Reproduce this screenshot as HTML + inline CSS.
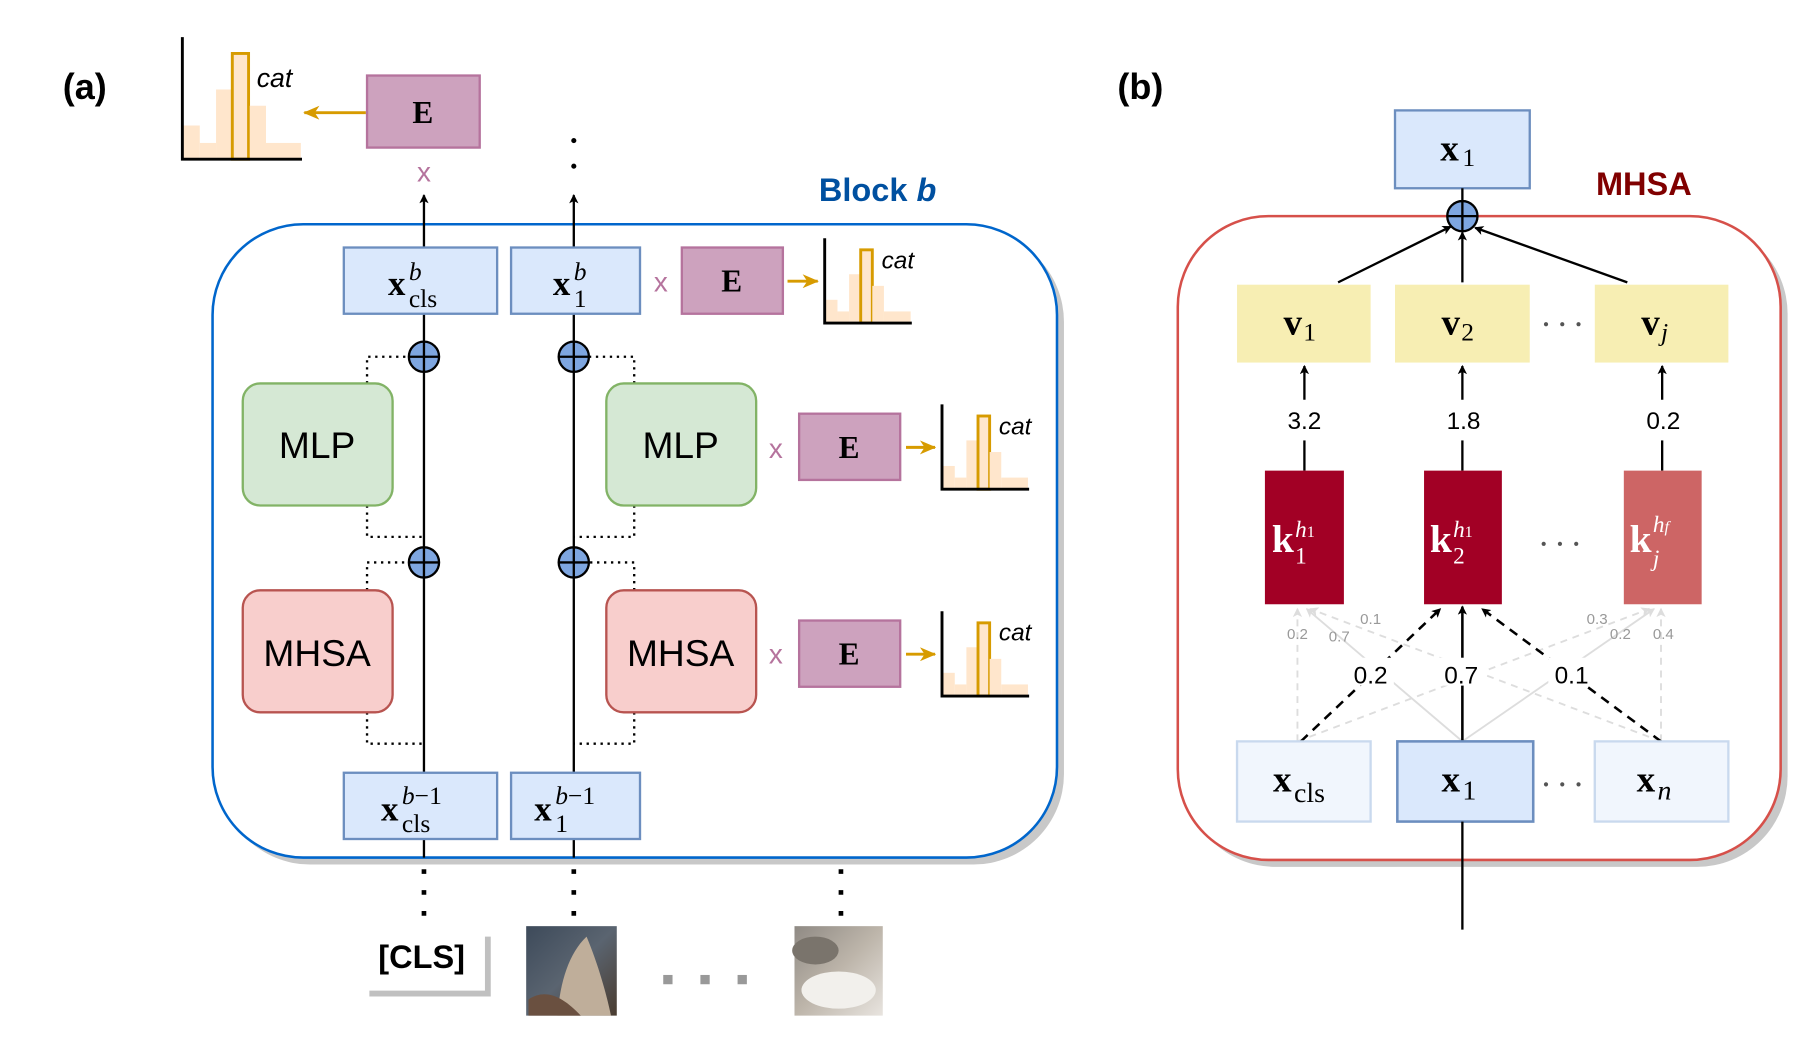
<!DOCTYPE html>
<html><head><meta charset="utf-8"><style>
html,body{margin:0;padding:0;background:#fff;}
svg{display:block;}
.m{font-family:"Liberation Serif",serif;}
.s{font-family:"Liberation Sans",sans-serif;}
</style></head><body>
<svg width="1812" height="1047" viewBox="0 0 1560 901" preserveAspectRatio="none" xmlns="http://www.w3.org/2000/svg">
<defs>
<marker id="ak" markerWidth="8" markerHeight="8" refX="7" refY="4" orient="auto" markerUnits="userSpaceOnUse"><path d="M0,0 L8,4 L0,8 L2,4z" fill="#000"/></marker>
<marker id="ao" markerWidth="14" markerHeight="12" refX="13" refY="6" orient="auto" markerUnits="userSpaceOnUse"><path d="M0,0 L14,6 L0,12 L4,6z" fill="#d79b00"/></marker>
<marker id="ag" markerWidth="8" markerHeight="8" refX="7" refY="4" orient="auto" markerUnits="userSpaceOnUse"><path d="M0,0 L8,4 L0,8 L2,4z" fill="#ddd"/></marker>
<linearGradient id="cat1" x1="0" y1="0" x2="1" y2="1"><stop offset="0" stop-color="#3d4a5a"/><stop offset="0.5" stop-color="#5a6470"/><stop offset="1" stop-color="#4a3c30"/></linearGradient>
<linearGradient id="cat2" x1="0" y1="0" x2="1" y2="1"><stop offset="0" stop-color="#8f8a84"/><stop offset="0.5" stop-color="#bdb5aa"/><stop offset="1" stop-color="#e8e4df"/></linearGradient>
<g id="hist">
<rect x="1" y="-29" width="14" height="29" fill="#ffe6cc"/>
<rect x="15" y="-14" width="14" height="14" fill="#ffe6cc"/>
<rect x="29" y="-60" width="14" height="60" fill="#ffe6cc"/>
<rect x="43" y="-91" width="14" height="91" fill="#ffe6cc" stroke="#d79b00" stroke-width="2.5"/>
<rect x="58" y="-46" width="14" height="46" fill="#ffe6cc"/>
<rect x="72" y="-14" width="30" height="14" fill="#ffe6cc"/>
<path d="M0,-105 V0 H103" fill="none" stroke="#000" stroke-width="2.5"/>
</g>
<g id="hist2">
<rect x="1" y="-20" width="10" height="20" fill="#ffe6cc"/>
<rect x="11" y="-10" width="10" height="10" fill="#ffe6cc"/>
<rect x="21" y="-42" width="10" height="42" fill="#ffe6cc"/>
<rect x="31" y="-63" width="10" height="63" fill="#ffe6cc" stroke="#d79b00" stroke-width="2.5"/>
<rect x="41" y="-32" width="10" height="32" fill="#ffe6cc"/>
<rect x="51" y="-10" width="23" height="10" fill="#ffe6cc"/>
<path d="M0,-73 V0 H75" fill="none" stroke="#000" stroke-width="2.5"/>
</g>
<g id="plus"><circle r="13" fill="#7ea6e0" stroke="#000" stroke-width="2"/><path d="M-13,0H13M0,-13V13" stroke="#000" stroke-width="2"/></g>
</defs>

<!-- (a) -->
<text x="54" y="85" class="s" font-size="31" font-weight="bold">(a)</text>
<use href="#hist" x="157" y="137"/>
<text x="221" y="75" class="s" font-size="23" font-style="italic">cat</text>
<line x1="315" y1="97" x2="262" y2="97" stroke="#d79b00" stroke-width="2.5" marker-end="url(#ao)"/>
<rect x="316" y="65" width="97" height="62" fill="#cda2be" stroke="#b5739d" stroke-width="2"/>
<text x="364" y="106" class="m" font-size="27" font-weight="bold" text-anchor="middle">E</text>
<text x="365" y="156" class="s" font-size="24" fill="#b5739d" text-anchor="middle">x</text>
<circle cx="494" cy="121" r="2.2"/><circle cx="494" cy="143" r="2.2"/>

<text x="705" y="173" class="s" font-size="28" font-weight="bold" fill="#0050a0">Block <tspan font-style="italic">b</tspan></text>
<rect x="189" y="199" width="727" height="545" rx="78" fill="#c8c8c8"/>
<rect x="183" y="193" width="727" height="545" rx="78" fill="#fff" stroke="#0066cc" stroke-width="2.2"/>

<line x1="365" y1="213" x2="365" y2="168" stroke="#000" stroke-width="2" marker-end="url(#ak)"/>
<line x1="494" y1="213" x2="494" y2="168" stroke="#000" stroke-width="2" marker-end="url(#ak)"/>
<line x1="365" y1="270" x2="365" y2="738" stroke="#000" stroke-width="2"/>
<line x1="494" y1="270" x2="494" y2="738" stroke="#000" stroke-width="2"/>

<g fill="none" stroke="#000" stroke-width="2" stroke-dasharray="2,4">
<path d="M316,330V307H352"/><path d="M316,435V462H365"/>
<path d="M316,508V484H352"/><path d="M316,613V640H365"/>
<path d="M546,330V307H507"/><path d="M546,435V462H494"/>
<path d="M546,508V484H507"/><path d="M546,613V640H494"/>
</g>
<use href="#plus" x="365" y="307"/><use href="#plus" x="494" y="307"/>
<use href="#plus" x="365" y="484"/><use href="#plus" x="494" y="484"/>

<rect x="209" y="330" width="129" height="105" rx="15" fill="#d5e8d4" stroke="#82b366" stroke-width="2"/>
<text x="273" y="394" class="s" font-size="32" text-anchor="middle">MLP</text>
<rect x="209" y="508" width="129" height="105" rx="15" fill="#f8cecc" stroke="#b85450" stroke-width="2"/>
<text x="273" y="573" class="s" font-size="32" text-anchor="middle">MHSA</text>
<rect x="522" y="330" width="129" height="105" rx="15" fill="#d5e8d4" stroke="#82b366" stroke-width="2"/>
<text x="586" y="394" class="s" font-size="32" text-anchor="middle">MLP</text>
<rect x="522" y="508" width="129" height="105" rx="15" fill="#f8cecc" stroke="#b85450" stroke-width="2"/>
<text x="586" y="573" class="s" font-size="32" text-anchor="middle">MHSA</text>

<rect x="296" y="213" width="132" height="57" fill="#dae8fc" stroke="#6c8ebf" stroke-width="2"/>
<text x="334" y="254" class="m" font-size="30" font-weight="bold">x</text>
<text x="352" y="241" class="m" font-size="22" font-style="italic">b</text>
<text x="352" y="264" class="m" font-size="22">cls</text>
<rect x="440" y="213" width="111" height="57" fill="#dae8fc" stroke="#6c8ebf" stroke-width="2"/>
<text x="476" y="254" class="m" font-size="30" font-weight="bold">x</text>
<text x="494" y="241" class="m" font-size="22" font-style="italic">b</text>
<text x="494" y="264" class="m" font-size="22">1</text>
<text x="569" y="251" class="s" font-size="24" fill="#b5739d" text-anchor="middle">x</text>
<rect x="587" y="213" width="87" height="57" fill="#cda2be" stroke="#b5739d" stroke-width="2"/>
<text x="630" y="251" class="m" font-size="27" font-weight="bold" text-anchor="middle">E</text>
<line x1="678" y1="242" x2="704" y2="242" stroke="#d79b00" stroke-width="2.5" marker-end="url(#ao)"/>
<use href="#hist2" x="710" y="278"/>
<text x="759" y="231" class="s" font-size="21" font-style="italic">cat</text>

<text x="668" y="394" class="s" font-size="24" fill="#b5739d" text-anchor="middle">x</text>
<rect x="688" y="356" width="87" height="57" fill="#cda2be" stroke="#b5739d" stroke-width="2"/>
<text x="731" y="394" class="m" font-size="27" font-weight="bold" text-anchor="middle">E</text>
<line x1="780" y1="385" x2="805" y2="385" stroke="#d79b00" stroke-width="2.5" marker-end="url(#ao)"/>
<use href="#hist2" x="811" y="421"/>
<text x="860" y="374" class="s" font-size="21" font-style="italic">cat</text>

<text x="668" y="571" class="s" font-size="24" fill="#b5739d" text-anchor="middle">x</text>
<rect x="688" y="534" width="87" height="57" fill="#cda2be" stroke="#b5739d" stroke-width="2"/>
<text x="731" y="572" class="m" font-size="27" font-weight="bold" text-anchor="middle">E</text>
<line x1="780" y1="563" x2="805" y2="563" stroke="#d79b00" stroke-width="2.5" marker-end="url(#ao)"/>
<use href="#hist2" x="811" y="599"/>
<text x="860" y="551" class="s" font-size="21" font-style="italic">cat</text>

<rect x="296" y="665" width="132" height="57" fill="#dae8fc" stroke="#6c8ebf" stroke-width="2"/>
<text x="328" y="706" class="m" font-size="30" font-weight="bold">x</text>
<text x="346" y="692" class="m" font-size="22"><tspan font-style="italic">b</tspan>−1</text>
<text x="346" y="716" class="m" font-size="22">cls</text>
<rect x="440" y="665" width="111" height="57" fill="#dae8fc" stroke="#6c8ebf" stroke-width="2"/>
<text x="460" y="706" class="m" font-size="30" font-weight="bold">x</text>
<text x="478" y="692" class="m" font-size="22"><tspan font-style="italic">b</tspan>−1</text>
<text x="478" y="716" class="m" font-size="22">1</text>

<g stroke="#000" stroke-width="4" stroke-dasharray="4,14">
<line x1="365" y1="748" x2="365" y2="795"/><line x1="494" y1="748" x2="494" y2="795"/><line x1="724" y1="748" x2="724" y2="795"/>
</g>
<path d="M318,855H420V806" fill="none" stroke="#c0c0c0" stroke-width="5"/>
<text x="363" y="833" class="s" font-size="28" font-weight="bold" text-anchor="middle">[CLS]</text>
<rect x="453" y="797" width="78" height="77" fill="url(#cat1)"/>
<path d="M480,874 C482,845 490,820 505,806 C515,830 522,855 526,874Z" fill="#bfae9a"/>
<path d="M455,860 C470,850 485,858 500,874 L455,874Z" fill="#6a5040"/>
<rect x="684" y="797" width="76" height="77" fill="url(#cat2)"/>
<ellipse cx="722" cy="852" rx="32" ry="16" fill="#f2f0ec"/>
<ellipse cx="702" cy="818" rx="20" ry="12" fill="#7a746c"/>
<g fill="#999"><rect x="571" y="839" width="8" height="8"/><rect x="603" y="839" width="8" height="8"/><rect x="635" y="839" width="8" height="8"/></g>

<!-- (b) -->
<text x="962" y="85" class="s" font-size="31" font-weight="bold">(b)</text>
<text x="1374" y="168" class="s" font-size="28" font-weight="bold" fill="#800000">MHSA</text>
<rect x="1020" y="192" width="519" height="554" rx="78" fill="#c8c8c8"/>
<rect x="1014" y="186" width="519" height="554" rx="78" fill="#fff" stroke="#d6504a" stroke-width="2.2"/>

<rect x="1201" y="95" width="116" height="67" fill="#dae8fc" stroke="#6c8ebf" stroke-width="2"/>
<text x="1240" y="138" class="m" font-size="32" font-weight="bold">x</text>
<text x="1259" y="143" class="m" font-size="22">1</text>
<line x1="1259" y1="162" x2="1259" y2="173" stroke="#000" stroke-width="2"/>

<line x1="1152" y1="243" x2="1249" y2="195" stroke="#000" stroke-width="2" marker-end="url(#ak)"/>
<line x1="1259" y1="243" x2="1259" y2="200" stroke="#000" stroke-width="2" marker-end="url(#ak)"/>
<line x1="1401" y1="243" x2="1270" y2="196" stroke="#000" stroke-width="2" marker-end="url(#ak)"/>
<use href="#plus" x="1259" y="186"/>

<g fill="#f7eeb3">
<rect x="1065" y="245" width="115" height="67"/><rect x="1201" y="245" width="116" height="67"/><rect x="1373" y="245" width="115" height="67"/>
</g>
<text x="1105" y="288" class="m" font-size="32" font-weight="bold">v</text><text x="1122" y="293" class="m" font-size="22">1</text>
<text x="1241" y="288" class="m" font-size="32" font-weight="bold">v</text><text x="1258" y="293" class="m" font-size="22">2</text>
<text x="1413" y="288" class="m" font-size="32" font-weight="bold">v</text><text x="1430" y="293" class="m" font-size="22" font-style="italic">j</text>
<g fill="#555"><circle cx="1331" cy="279" r="1.8"/><circle cx="1345" cy="279" r="1.8"/><circle cx="1359" cy="279" r="1.8"/></g>

<g stroke="#000" stroke-width="2">
<line x1="1123" y1="405" x2="1123" y2="379"/><line x1="1123" y1="344" x2="1123" y2="315" marker-end="url(#ak)"/>
<line x1="1259" y1="405" x2="1259" y2="379"/><line x1="1259" y1="344" x2="1259" y2="315" marker-end="url(#ak)"/>
<line x1="1431" y1="405" x2="1431" y2="379"/><line x1="1431" y1="344" x2="1431" y2="315" marker-end="url(#ak)"/>
</g>
<text x="1123" y="369" class="s" font-size="21" text-anchor="middle">3.2</text>
<text x="1260" y="369" class="s" font-size="21" text-anchor="middle">1.8</text>
<text x="1432" y="369" class="s" font-size="21" text-anchor="middle">0.2</text>

<rect x="1089" y="405" width="68" height="115" fill="#a20025"/>
<rect x="1226" y="405" width="67" height="115" fill="#a20025"/>
<rect x="1398" y="405" width="67" height="115" fill="#cd6565"/>
<g fill="#fff" class="m">
<text x="1095" y="475" font-size="34" font-weight="bold">k</text><text x="1115" y="462" font-size="20" font-style="italic">h<tspan font-size="14" font-style="normal">1</tspan></text><text x="1115" y="485" font-size="20">1</text>
<text x="1231" y="475" font-size="34" font-weight="bold">k</text><text x="1251" y="462" font-size="20" font-style="italic">h<tspan font-size="14" font-style="normal">1</tspan></text><text x="1251" y="485" font-size="20">2</text>
<text x="1403" y="475" font-size="34" font-weight="bold">k</text><text x="1423" y="458" font-size="20" font-style="italic">h<tspan font-size="14">f</tspan></text><text x="1423" y="487" font-size="20" font-style="italic">j</text>
</g>
<g fill="#555"><circle cx="1329" cy="468" r="1.8"/><circle cx="1343" cy="468" r="1.8"/><circle cx="1357" cy="468" r="1.8"/></g>

<g stroke="#ddd" stroke-width="1.6" fill="none">
<line x1="1117" y1="638" x2="1117" y2="524" stroke-dasharray="6,5" marker-end="url(#ag)"/>
<line x1="1117" y1="638" x2="1420" y2="524" stroke-dasharray="6,5" marker-end="url(#ag)"/>
<line x1="1259" y1="638" x2="1125" y2="524" marker-end="url(#ag)"/>
<line x1="1259" y1="638" x2="1424" y2="524" marker-end="url(#ag)"/>
<line x1="1430" y1="638" x2="1128" y2="524" stroke-dasharray="6,5" marker-end="url(#ag)"/>
<line x1="1430" y1="638" x2="1430" y2="524" stroke-dasharray="6,5" marker-end="url(#ag)"/>
</g>
<g class="s" font-size="13" fill="#999" text-anchor="middle">
<text x="1117" y="550">0.2</text><text x="1153" y="552">0.7</text><text x="1180" y="537">0.1</text>
<text x="1375" y="537">0.3</text><text x="1395" y="550">0.2</text><text x="1432" y="550">0.4</text>
</g>
<g stroke="#000" stroke-width="2.2">
<line x1="1120" y1="638" x2="1240" y2="524" stroke-dasharray="8,6" marker-end="url(#ak)"/>
<line x1="1259" y1="638" x2="1259" y2="522" marker-end="url(#ak)"/>
<line x1="1430" y1="638" x2="1276" y2="524" stroke-dasharray="8,6" marker-end="url(#ak)"/>
</g>
<g fill="#fff"><rect x="1160" y="566" width="40" height="24"/><rect x="1238" y="566" width="42" height="24"/><rect x="1333" y="566" width="40" height="24"/></g>
<g class="s" font-size="21" text-anchor="middle">
<text x="1180" y="588">0.2</text><text x="1258" y="588">0.7</text><text x="1353" y="588">0.1</text>
</g>

<rect x="1065" y="638" width="115" height="69" fill="#f1f6fd" stroke="#c9d9ee" stroke-width="2"/>
<rect x="1203" y="638" width="117" height="69" fill="#dae8fc" stroke="#6c8ebf" stroke-width="2.2"/>
<rect x="1373" y="638" width="115" height="69" fill="#f1f6fd" stroke="#c9d9ee" stroke-width="2"/>
<text x="1096" y="681" class="m" font-size="32" font-weight="bold">x</text><text x="1114" y="690" class="m" font-size="24">cls</text>
<text x="1241" y="681" class="m" font-size="32" font-weight="bold">x</text><text x="1259" y="688" class="m" font-size="24">1</text>
<text x="1409" y="681" class="m" font-size="32" font-weight="bold">x</text><text x="1427" y="688" class="m" font-size="24" font-style="italic">n</text>
<g fill="#555"><circle cx="1331" cy="675" r="1.8"/><circle cx="1345" cy="675" r="1.8"/><circle cx="1359" cy="675" r="1.8"/></g>
<line x1="1259" y1="707" x2="1259" y2="800" stroke="#000" stroke-width="2"/>
</svg>
</body></html>
